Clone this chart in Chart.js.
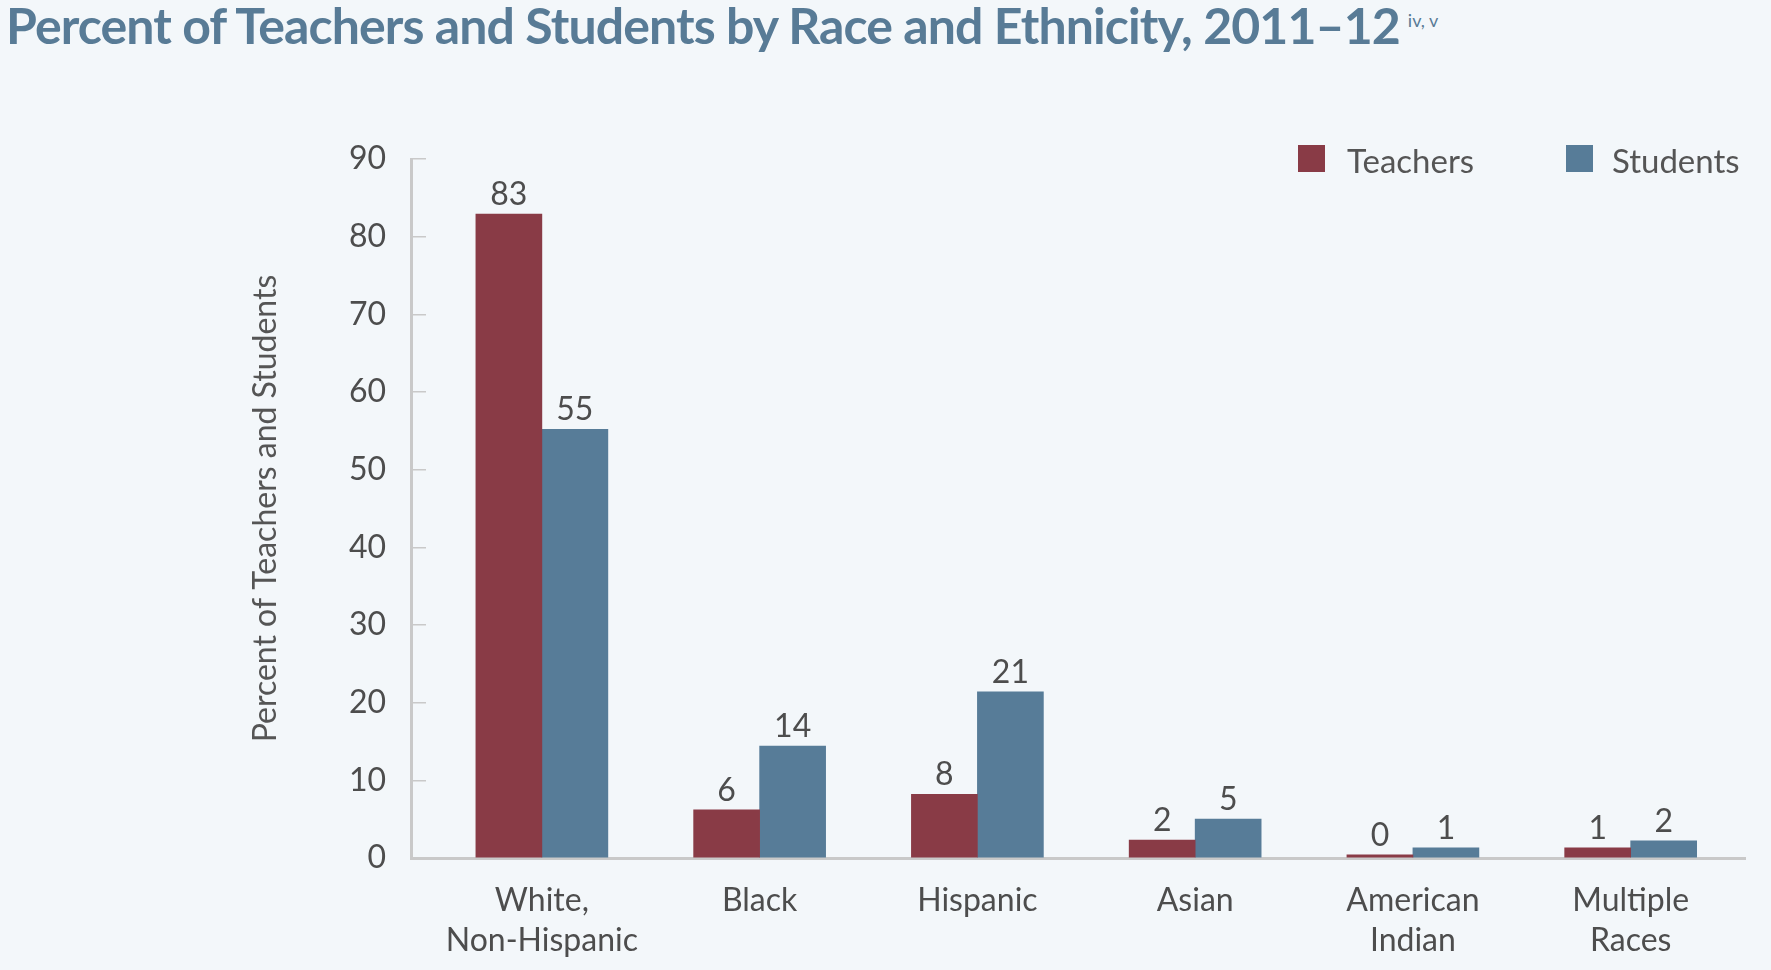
<!DOCTYPE html>
<html>
<head>
<meta charset="utf-8">
<script src="https://cdn.jsdelivr.net/npm/chart.js@4.4.0/dist/chart.umd.min.js"></script>
<style>
  html, body { margin: 0; padding: 0; background: #f3f7fa; }
  body { width: 1771px; height: 970px; position: relative; overflow: hidden; font-family: Lato, sans-serif; }
  #titulo { position: absolute; left: 6px; top: 0; font-size: 50px; line-height: 50px; font-weight: bold; color: #587b96; white-space: nowrap; letter-spacing: -0.9px; }
  #titulo sup { font-size: 18px; font-weight: normal; position: relative; top: -5px; vertical-align: top; margin-left: 8px; letter-spacing: 0; }
  #area { position: absolute; left: 0; top: 0; width: 1771px; height: 970px; }
  .quadrado { position: absolute; width: 27px; height: 27px; }
  .legenda { position: absolute; font-size: 33px; line-height: 33px; color: #555; white-space: nowrap; }
</style>
</head>
<body>
<div id="titulo">Percent of Teachers and Students by Race and Ethnicity, 2011–12<sup>iv, v</sup></div>
<div id="area"><canvas id="graficoRaca"></canvas></div>
<div class="quadrado" style="left:1298px;top:145px;background:#893b46"></div>
<div class="legenda" style="left:1347px;top:144px">Teachers</div>
<div class="quadrado" style="left:1566px;top:145px;background:#577c98"></div>
<div class="legenda" style="left:1612px;top:144px">Students</div>
<script>
// Categorias (eixo x) e valores
const categorias = [['White,', 'Non-Hispanic'], 'Black', 'Hispanic', 'Asian', ['American', 'Indian'], ['Multiple', 'Races']];
const professores = [82.9, 6.2, 8.2, 2.3, 0.4, 1.3];
const alunos = [55.2, 14.4, 21.4, 5.0, 1.3, 2.2];
const ticksY = [0, 10, 20, 30, 40, 50, 60, 70, 80, 90];

const cores = {
    professores: '#893b46',
    alunos: '#577c98'
};

// Escreve o valor arredondado em cima de cada barra
const rotulosValores = {
    id: 'rotulosValores',
    afterDatasetsDraw(chart) {
        const ctx = chart.ctx;
        ctx.save();
        ctx.font = '32px Lato';
        ctx.fillStyle = '#4d4d4d';
        ctx.textAlign = 'center';
        ctx.textBaseline = 'alphabetic';
        chart.data.datasets.forEach((ds, i) => {
            chart.getDatasetMeta(i).data.forEach((barra, j) => {
                ctx.fillText(String(Math.round(ds.data[j].y)), barra.x, barra.y - 9);
            });
        });
        ctx.restore();
    }
};

const fonteEixo = { family: 'Lato', size: 32, lineHeight: 1.25 };
const ctx = document.getElementById('graficoRaca').getContext('2d');
new Chart(ctx, {
    type: 'bar',
    data: {
        datasets: [
            { label: 'Teachers', backgroundColor: cores.professores, data: professores.map((v, i) => ({ x: i, y: v })) },
            { label: 'Students', backgroundColor: cores.alunos, data: alunos.map((v, i) => ({ x: i, y: v })) }
        ]
    },
    options: {
        responsive: true,
        maintainAspectRatio: false,
        animation: false,
        datasets: { bar: { barThickness: 66, borderWidth: 0 } },
        layout: { padding: { top: 159, right: 26, left: 0, bottom: 0 } },
        scales: {
            x: {
                type: 'linear',
                min: -0.601,
                max: 5.525,
                offset: false,
                afterBuildTicks: (s) => { s.ticks = categorias.map((c, i) => ({ value: i })); },
                afterFit: (s) => { s.height = 112; },
                ticks: {
                    autoSkip: false, maxRotation: 0, padding: 23,
                    font: fonteEixo, color: '#4d4d4d',
                    callback: (v) => categorias[v]
                },
                grid: { display: false, drawTicks: false },
                border: { display: true, color: '#c9c9c9', width: 3 }
            },
            y: {
                min: 0,
                max: 90,
                afterBuildTicks: (s) => { s.ticks = ticksY.map(v => ({ value: v })); },
                afterFit: (s) => { s.width = 411; },
                ticks: { font: fonteEixo, color: '#4d4d4d', padding: 40 },
                grid: { drawOnChartArea: false, drawTicks: true, tickLength: -15, color: '#c9c9c9', lineWidth: 1.5 },
                border: { display: true, color: '#c9c9c9', width: 3 },
                title: {
                    display: true,
                    text: 'Percent of Teachers and Students',
                    font: { family: 'Lato', size: 32 },
                    color: '#555',
                    padding: { top: 246 }
                }
            }
        },
        plugins: {
            legend: { display: false },
            tooltip: { enabled: false }
        }
    },
    plugins: [rotulosValores]
});
</script>
</body>
</html>
